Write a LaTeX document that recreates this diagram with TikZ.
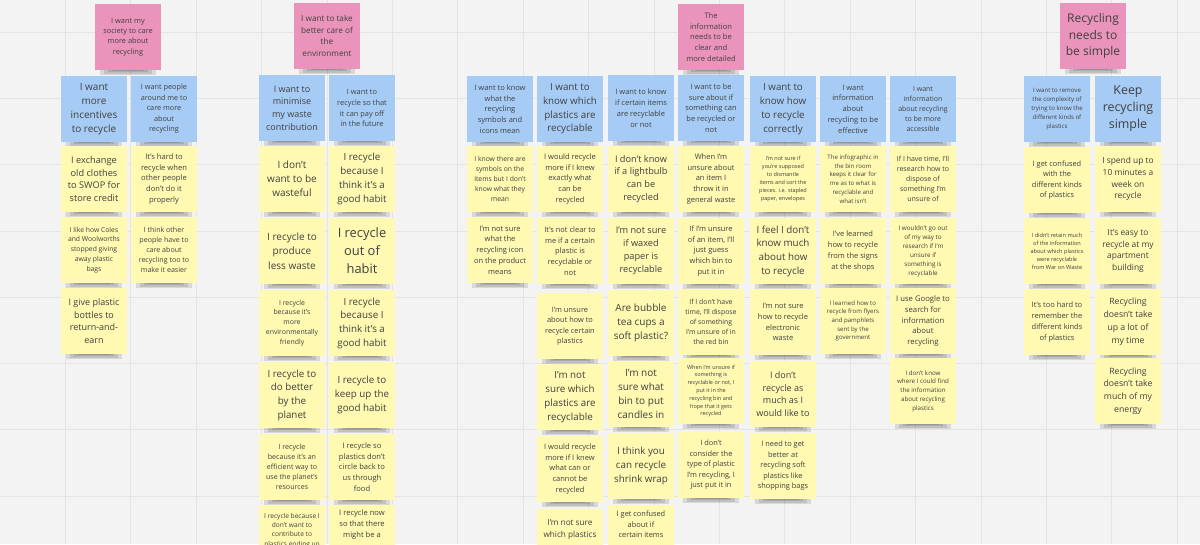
\documentclass[tikz,border=0pt]{standalone}
\usepackage{fontspec}
\setmainfont{Open Sans}
\definecolor{canvas}{HTML}{F3F3F3}
\definecolor{gridcol}{HTML}{E4E4E4}
\definecolor{notepink}{HTML}{EA94BB}
\definecolor{noteblue}{HTML}{A6CCF5}
\definecolor{noteyellow}{HTML}{FFF9B1}
\definecolor{notetext}{HTML}{404040}
\tikzset{
  gridline/.style={draw=gridcol, line width=0.8pt},
  noteshadow/.style={fill=black, opacity=0.11},
  note/.style={rectangle, minimum width=66pt, minimum height=66pt, inner sep=0pt,
    align=center, text=notetext},
  pinknote/.style={note, fill=notepink},
  bluenote/.style={note, fill=noteblue},
  yellownote/.style={note, fill=noteyellow},
  fs/.style 2 args={font=\fontsize{#1}{#2}\selectfont},
  notetxt/.style={inner sep=0pt, align=center, text=notetext, anchor=north},
}
% name, left, top, note style, text size, text
\newcommand\sticky[6]{%
  \foreach \k in {0,1,2,3}{\fill[noteshadow] ({#2+5+4*\k},{#3+58}) rectangle ({#2+61-4*\k},{#3+71-1.5*\k});}
  \node[#4,#5] (#1) at ({#2+33},{#3+33}) {#6};
}
% note running off the lower edge: name, left, top, text size, text top, text
\newcommand\stickycut[6]{%
  \node[yellownote] (#1) at ({#2+33},{#3+33}) {};
  \node[notetxt,#4] (#1t) at ({#2+33},#5) {#6};
}
\begin{document}
\begin{tikzpicture}[x=1pt,y=-1pt]
\useasboundingbox (0,0) rectangle (1200,544);
\clip (0,0) rectangle (1200,544);
\fill[canvas] (0,0) rectangle (1200,544);
\foreach \gx in {1,...,18}{\draw[gridline] ({65.4*\gx},0) -- ({65.4*\gx},544);}
\foreach \gy in {0,...,7}{\draw[gridline] (0,{32+66.3*\gy}) -- (1200,{32+66.3*\gy});}

% ---- Caring about recycling
\sticky{p1}{95}{4}{pinknote}{fs={7.4}{10.4}}{I want my\\society to care\\more about\\recycling}
\sticky{b1}{61}{76}{bluenote}{fs={10}{14}}{I want\\more\\incentives\\to recycle}
\sticky{b2}{131}{76}{bluenote}{fs={7.3}{10.5}}{I want people\\around me to\\care more\\about\\recycling}
\sticky{y1}{61}{146}{yellownote}{fs={9.2}{12.9}}{I exchange\\old clothes\\to SWOP for\\store credit}
\sticky{y2}{61}{217}{yellownote}{fs={6.8}{9.8}}{I like how Coles\\and Woolworths\\stopped giving\\away plastic\\bags}
\sticky{y3}{61}{288}{yellownote}{fs={9}{12.6}}{I give plastic\\bottles to\\return-and-\\earn}
\sticky{y4}{131}{146}{yellownote}{fs={7.6}{10.8}}{It's hard to\\recycle when\\other people\\don't do it\\properly}
\sticky{y5}{131}{217}{yellownote}{fs={7.1}{10}}{I think other\\people have to\\care about\\recycling too to\\make it easier}

% ---- Caring for the environment
\sticky{p2}{294}{3}{pinknote}{fs={8.2}{11.8}}{I want to take\\better care of\\the\\environment}
\sticky{b3}{259}{75}{bluenote}{fs={9}{12.6}}{I want to\\minimise\\my waste\\contribution}
\sticky{b4}{329}{75}{bluenote}{fs={7.4}{10.8}}{I want to\\recycle so that\\it can pay off\\in the future}
\sticky{y6}{259}{146}{yellownote}{fs={10}{14.2}}{I don't\\want to be\\wasteful}
\sticky{y7}{259}{218}{yellownote}{fs={10}{14.4}}{I recycle to\\produce\\less waste}
\sticky{y8}{259}{290}{yellownote}{fs={6.9}{9.8}}{I recycle\\because it's\\more\\environmentally\\friendly}
\sticky{y9}{259}{362}{yellownote}{fs={9.8}{13.7}}{I recycle to\\do better\\by the\\planet}
\sticky{y10}{259}{434}{yellownote}{fs={7.1}{10}}{I recycle\\because it's an\\efficient way to\\use the planet's\\resources}
\stickycut{y11}{259}{505}{fs={6.6}{9.3}}{513}{I recycle because I\\don't want to\\contribute to\\plastics ending up}
\sticky{y12}{329}{146}{yellownote}{fs={9.8}{13.8}}{I recycle\\because I\\think it's a\\good habit}
\sticky{y13}{329}{218}{yellownote}{fs={12.9}{18}}{I recycle\\out of\\habit}
\sticky{y14}{329}{290}{yellownote}{fs={9.8}{13.7}}{I recycle\\because I\\think it's a\\good habit}
\sticky{y15}{329}{362}{yellownote}{fs={9.8}{13.8}}{I recycle to\\keep up the\\good habit}
\sticky{y16}{329}{434}{yellownote}{fs={7.6}{10.7}}{I recycle so\\plastics don't\\circle back to\\us through\\food}
\stickycut{y17}{329}{505}{fs={7.6}{10.8}}{510}{I recycle now\\so that there\\might be a}

% ---- Clear and detailed information
\sticky{p3}{678}{4}{pinknote}{fs={7.6}{10.7}}{The\\information\\needs to be\\clear and\\more detailed}
\sticky{b5}{467}{76}{bluenote}{fs={7.5}{10.7}}{I want to know\\what the\\recycling\\symbols and\\icons mean}
\sticky{b6}{537}{76}{bluenote}{fs={9.8}{13.7}}{I want to\\know which\\plastics are\\recyclable}
\sticky{b7}{608}{75}{bluenote}{fs={7.5}{10.8}}{I want to know\\if certain items\\are recyclable\\or not}
\sticky{b8}{678}{75}{bluenote}{fs={7.5}{10.7}}{I want to be\\sure about if\\something can\\be recycled or\\not}
\sticky{b9}{750}{76}{bluenote}{fs={9.8}{13.8}}{I want to\\know how\\to recycle\\correctly}
\sticky{b10}{820}{76}{bluenote}{fs={7.5}{10.8}}{I want\\information\\about\\recycling to be\\effective}
\sticky{b11}{890}{76}{bluenote}{fs={7}{10}}{I want\\information\\about recycling\\to be more\\accessible}

\sticky{y18}{467}{146}{yellownote}{fs={6.8}{9.8}}{I know there are\\symbols on the\\items but I don't\\know what they\\mean}
\sticky{y19}{467}{217}{yellownote}{fs={7.5}{10.7}}{I'm not sure\\what the\\recycling icon\\on the product\\means}

\sticky{y20}{537}{146}{yellownote}{fs={7.5}{10.7}}{I would recycle\\more if I knew\\exactly what\\can be\\recycled}
\sticky{y21}{537}{218}{yellownote}{fs={7.5}{10.8}}{It's not clear to\\me if a certain\\plastic is\\recyclable or\\not}
\sticky{y22}{537}{293}{yellownote}{fs={7.4}{10.5}}{I'm unsure\\about how to\\recycle certain\\plastics}
\sticky{y23}{537}{364}{yellownote}{fs={9.8}{13.8}}{I'm not\\sure which\\plastics are\\recyclable}
\sticky{y24}{537}{436}{yellownote}{fs={7.5}{10.7}}{I would recycle\\more if I knew\\what can or\\cannot be\\recycled}
\stickycut{y25}{537}{509}{fs={8.2}{12}}{519}{I'm not sure\\which plastics}

\sticky{y26}{608}{146}{yellownote}{fs={9.2}{12.9}}{I don't know\\if a lightbulb\\can be\\recycled}
\sticky{y27}{608}{218}{yellownote}{fs={9.2}{12.9}}{I'm not sure\\if waxed\\paper is\\recyclable}
\sticky{y28}{608}{290}{yellownote}{fs={10}{14.2}}{Are bubble\\tea cups a\\soft plastic?}
\sticky{y29}{608}{361}{yellownote}{fs={10}{14}}{I'm not\\sure what\\bin to put\\candles in}
\sticky{y30}{608}{433}{yellownote}{fs={9.8}{13.7}}{I think you\\can recycle\\shrink wrap}
\stickycut{y31}{608}{505}{fs={7.4}{10.5}}{511}{I get confused\\about if\\certain items}

\sticky{y32}{678}{146}{yellownote}{fs={7.5}{10.8}}{When I'm\\unsure about\\an item I\\throw it in\\general waste}
\sticky{y33}{678}{218}{yellownote}{fs={7.5}{10.7}}{If I'm unsure\\of an item, I'll\\just guess\\which bin to\\put it in}
\sticky{y34}{678}{289}{yellownote}{fs={6.9}{10}}{If I don't have\\time, I'll dispose\\of something\\I'm unsure of in\\the red bin}
\sticky{y35}{678}{358}{yellownote}{fs={5.5}{7.8}}{When I'm unsure if\\something is\\recyclable or not, I\\put it in the\\recycling bin and\\hope that it gets\\recycled}
\sticky{y36}{678}{432}{yellownote}{fs={7.4}{10.5}}{I don't\\consider the\\type of plastic\\I'm recycling, I\\just put it in}

\sticky{y37}{750}{146}{yellownote}{fs={5.5}{7.9}}{I'm not sure if\\you're supposed\\to dismantle\\items and sort the\\pieces. i.e. stapled\\paper, envelopes}
\sticky{y38}{750}{218}{yellownote}{fs={9.8}{13.7}}{I feel I don't\\know much\\about how\\to recycle}
\sticky{y39}{750}{289}{yellownote}{fs={7.5}{10.8}}{I'm not sure\\how to recycle\\electronic\\waste}
\sticky{y40}{750}{361}{yellownote}{fs={9}{12.7}}{I don't\\recycle as\\much as I\\would like to}
\sticky{y41}{750}{433}{yellownote}{fs={7.4}{10.5}}{I need to get\\better at\\recycling soft\\plastics like\\shopping bags}

\sticky{y42}{820}{146}{yellownote}{fs={6.1}{8.7}}{The infographic in\\the bin room\\keeps it clear for\\me as to what is\\recyclable and\\what isn't}
\sticky{y43}{820}{218}{yellownote}{fs={7.5}{10.7}}{I've learned\\how to recycle\\from the signs\\at the shops}
\sticky{y44}{820}{288}{yellownote}{fs={6.1}{8.7}}{I learned how to\\recycle from flyers\\and pamphlets\\sent by the\\government}

\sticky{y45}{890}{146}{yellownote}{fs={7}{10}}{If I have time, I'll\\research how to\\dispose of\\something I'm\\unsure of}
\sticky{y46}{890}{218}{yellownote}{fs={6.3}{9}}{I wouldn't go out\\of my way to\\research if I'm\\unsure if\\something is\\recyclable}
\sticky{y47}{890}{288}{yellownote}{fs={7.7}{10.7}}{I use Google to\\search for\\information\\about\\recycling}
\sticky{y48}{890}{358}{yellownote}{fs={6.2}{8.8}}{I don't know\\where I could find\\the information\\about recycling\\plastics}

% ---- Simple recycling
\sticky{p4}{1060}{3}{pinknote}{fs={12}{16.7}}{Recycling\\needs to\\be simple}
\sticky{b12}{1024}{76}{bluenote}{fs={6.1}{8.8}}{I want to remove\\the complexity of\\trying to know the\\different kinds of\\plastics}
\sticky{b13}{1095}{76}{bluenote}{fs={12.4}{17}}{Keep\\recycling\\simple}
\sticky{y49}{1024}{147}{yellownote}{fs={7.4}{10.5}}{I get confused\\with the\\different kinds\\of plastics}
\sticky{y50}{1024}{218}{yellownote}{fs={5.6}{8}}{I didn't retain much\\of the information\\about which plastics\\were recyclable\\from War on Waste}
\sticky{y51}{1024}{289}{yellownote}{fs={7.5}{10.7}}{It's too hard to\\remember the\\different kinds\\of plastics}
\sticky{y52}{1095}{146}{yellownote}{fs={8.4}{11.7}}{I spend up to\\10 minutes a\\week on\\recycle}
\sticky{y53}{1095}{218}{yellownote}{fs={8.4}{11.7}}{It's easy to\\recycle at my\\apartment\\building}
\sticky{y54}{1095}{289}{yellownote}{fs={8.7}{12.9}}{Recycling\\doesn't take\\up a lot of\\my time}
\sticky{y55}{1095}{358}{yellownote}{fs={8.7}{12.7}}{Recycling\\doesn't take\\much of my\\energy}
\end{tikzpicture}
\end{document}
